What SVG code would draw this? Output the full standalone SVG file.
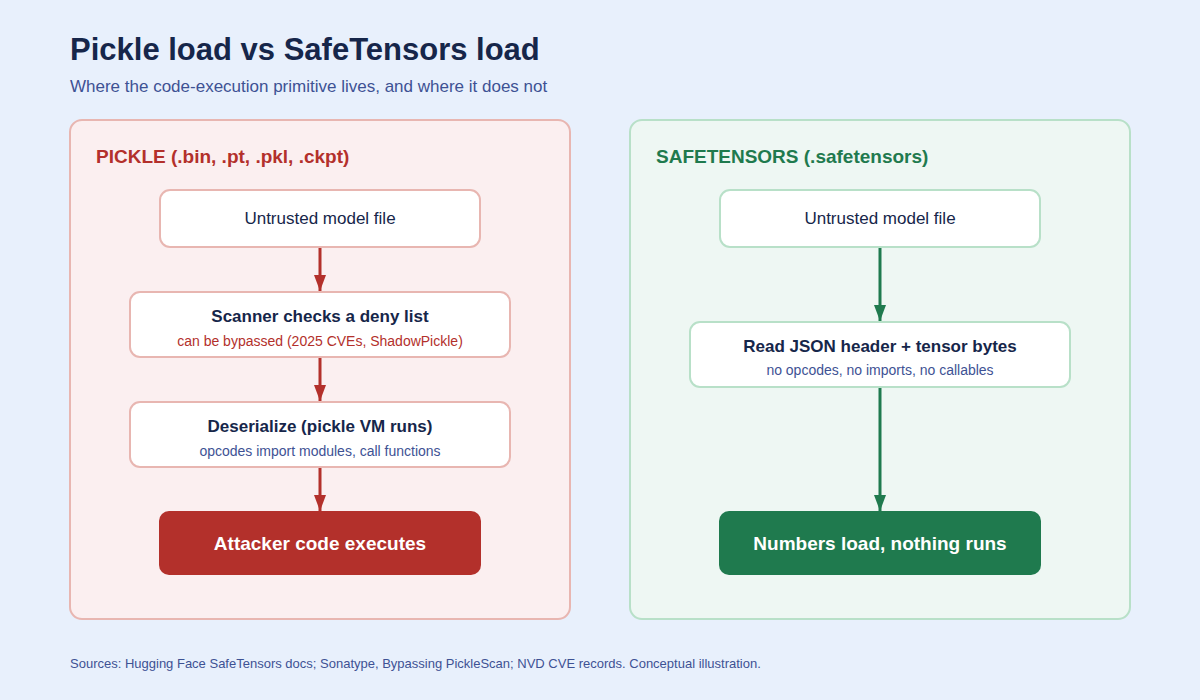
<svg xmlns="http://www.w3.org/2000/svg" width="1200" height="700" viewBox="0 0 1200 700">
<defs>
<marker id="ar" markerWidth="10" markerHeight="10" refX="8" refY="5" orient="auto" markerUnits="userSpaceOnUse"><path d="M0,0 L16,5 L0,10 Z" transform="scale(0.5,1)" fill="#b3302b"/></marker>
<marker id="ag" markerWidth="10" markerHeight="10" refX="8" refY="5" orient="auto" markerUnits="userSpaceOnUse"><path d="M0,0 L8,5 L0,10 Z" fill="#1f7a4e"/></marker>
<marker id="ar2" markerWidth="16" markerHeight="12" refX="16" refY="6" orient="auto" markerUnits="userSpaceOnUse"><path d="M0,0 L16,6 L0,12 Z" fill="#b3302b"/></marker>
<marker id="ag2" markerWidth="16" markerHeight="12" refX="16" refY="6" orient="auto" markerUnits="userSpaceOnUse"><path d="M0,0 L16,6 L0,12 Z" fill="#1f7a4e"/></marker>
</defs>
<style>
text{font-family:"Liberation Sans",Arial,sans-serif;}
.t{font-size:17px;font-weight:bold;fill:#16264a;text-anchor:middle}
.tn{font-size:17px;fill:#16264a;text-anchor:middle}
.sr{font-size:14px;fill:#b3302b;text-anchor:middle}
.sb{font-size:14px;fill:#3e5294;text-anchor:middle}
.wr{fill:#fff;stroke:#e8b6b1;stroke-width:2}
.wg{fill:#fff;stroke:#b8e0c8;stroke-width:2}
.big{font-size:19px;font-weight:bold;fill:#fff;text-anchor:middle}
</style>
<rect width="1200" height="700" fill="#e8f0fc"/>
<text x="70" y="60" font-size="31" font-weight="bold" fill="#16264a">Pickle load vs SafeTensors load</text>
<text x="70" y="92" font-size="17" fill="#3e5294">Where the code-execution primitive lives, and where it does not</text>
<g id="pickle-panel">
<rect x="70" y="120" width="500" height="499" rx="12" fill="#fbeff0" stroke="#e8b6b1" stroke-width="2"/>
<text x="96" y="163" font-size="19" font-weight="bold" fill="#b3302b">PICKLE (.bin, .pt, .pkl, .ckpt)</text>
</g>
<g id="safe-panel">
<rect x="630" y="120" width="500" height="499" rx="12" fill="#eef7f3" stroke="#b8e0c8" stroke-width="2"/>
<text x="656" y="163" font-size="19" font-weight="bold" fill="#1f7a4e">SAFETENSORS (.safetensors)</text>
</g>
<g id="connectors" stroke-width="3" fill="none">
<line x1="320" y1="247" x2="320" y2="291" stroke="#b3302b" marker-end="url(#ar2)"/>
<line x1="320" y1="357" x2="320" y2="401" stroke="#b3302b" marker-end="url(#ar2)"/>
<line x1="320" y1="467" x2="320" y2="511" stroke="#b3302b" marker-end="url(#ar2)"/>
<line x1="880" y1="247" x2="880" y2="321" stroke="#1f7a4e" marker-end="url(#ag2)"/>
<line x1="880" y1="387" x2="880" y2="511" stroke="#1f7a4e" marker-end="url(#ag2)"/>
</g>
<g id="p1"><rect class="wr" x="160" y="190" width="320" height="57" rx="10"/><text class="tn" x="320" y="224">Untrusted model file</text></g>
<g id="p2"><rect class="wr" x="130" y="292" width="380" height="65" rx="10"/><text class="t" x="320" y="322">Scanner checks a deny list</text><text class="sr" x="320" y="346">can be bypassed (2025 CVEs, ShadowPickle)</text></g>
<g id="p3"><rect class="wr" x="130" y="402" width="380" height="65" rx="10"/><text class="t" x="320" y="432">Deserialize (pickle VM runs)</text><text class="sb" x="320" y="456">opcodes import modules, call functions</text></g>
<g id="p4"><rect x="159" y="511" width="322" height="64" rx="10" fill="#b3302b"/><text class="big" x="320" y="550">Attacker code executes</text></g>
<g id="s1"><rect class="wg" x="720" y="190" width="320" height="57" rx="10"/><text class="tn" x="880" y="224">Untrusted model file</text></g>
<g id="s2"><rect class="wg" x="690" y="322" width="380" height="65" rx="10"/><text class="t" x="880" y="352">Read JSON header + tensor bytes</text><text class="sb" x="880" y="375">no opcodes, no imports, no callables</text></g>
<g id="s3"><rect x="719" y="511" width="322" height="64" rx="10" fill="#1f7a4e"/><text class="big" x="880" y="550">Numbers load, nothing runs</text></g>
<text x="70" y="668" font-size="13" fill="#3e5294">Sources: Hugging Face SafeTensors docs; Sonatype, Bypassing PickleScan; NVD CVE records. Conceptual illustration.</text>
</svg>
